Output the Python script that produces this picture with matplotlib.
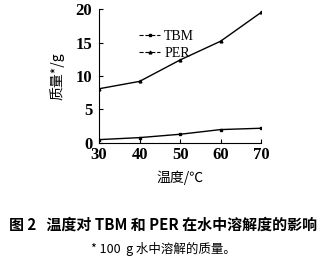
import matplotlib
matplotlib.use("Agg")
import matplotlib.pyplot as plt

temps = [30, 40, 50, 60, 70]
tbm = [0.5, 0.8, 1.3, 2.0, 2.2]
per = [8.1, 9.2, 12.4, 15.2, 19.5]
xticks = [30, 40, 50, 60, 70]
yticks = [0, 5, 10, 15, 20]

cjk = ['Noto Sans CJK SC', 'DejaVu Sans']
plt.rcParams['font.family'] = ['Liberation Serif', 'Noto Sans CJK SC', 'DejaVu Sans']

fig = plt.figure(figsize=(3.26, 2.59), dpi=100)
ax = fig.add_axes([0.304, 0.448, 0.497, 0.517])

ax.plot(temps, tbm, color='black', lw=1.0, marker='s', ms=2, label='TBM')
ax.plot(temps, per, color='black', lw=1.0, marker='^', ms=2, label='PER')

ax.set_xlim(30, 70)
ax.set_ylim(0, 20)
ax.set_xticks(xticks)
ax.set_yticks(yticks)
ax.spines['top'].set_visible(False)
ax.spines['right'].set_visible(False)
ax.tick_params(direction='in', length=3, width=0.8, labelsize=12)
ax.tick_params(axis='x', pad=3)
ax.tick_params(axis='y', pad=5)
for lbl in ax.get_xticklabels() + ax.get_yticklabels():
    lbl.set_fontweight('bold')

ax.set_xlabel('温度/℃', family=cjk, fontsize=10, labelpad=5)
ax.set_ylabel('质量*/g', family=cjk, fontsize=10, labelpad=8)

leg = ax.legend(loc='upper left', bbox_to_anchor=(0.17, 0.94), frameon=False,
                handlelength=1.5, handletextpad=0.3, labelspacing=0.3,
                prop={'family': 'Liberation Serif', 'size': 10})
for h in leg.get_lines():
    h.set_linestyle('--')
    h.set_linewidth(0.8)

fig.text(0.5, 0.132, '图 2   温度对 TBM 和 PER 在水中溶解度的影响', family=cjk,
         fontsize=10.8, fontweight='bold', ha='center', va='center')
fig.text(0.5, 0.037, '* 100  g 水中溶解的质量。', family=cjk,
         fontsize=9, ha='center', va='center')

fig.savefig('out.png', dpi=100)
